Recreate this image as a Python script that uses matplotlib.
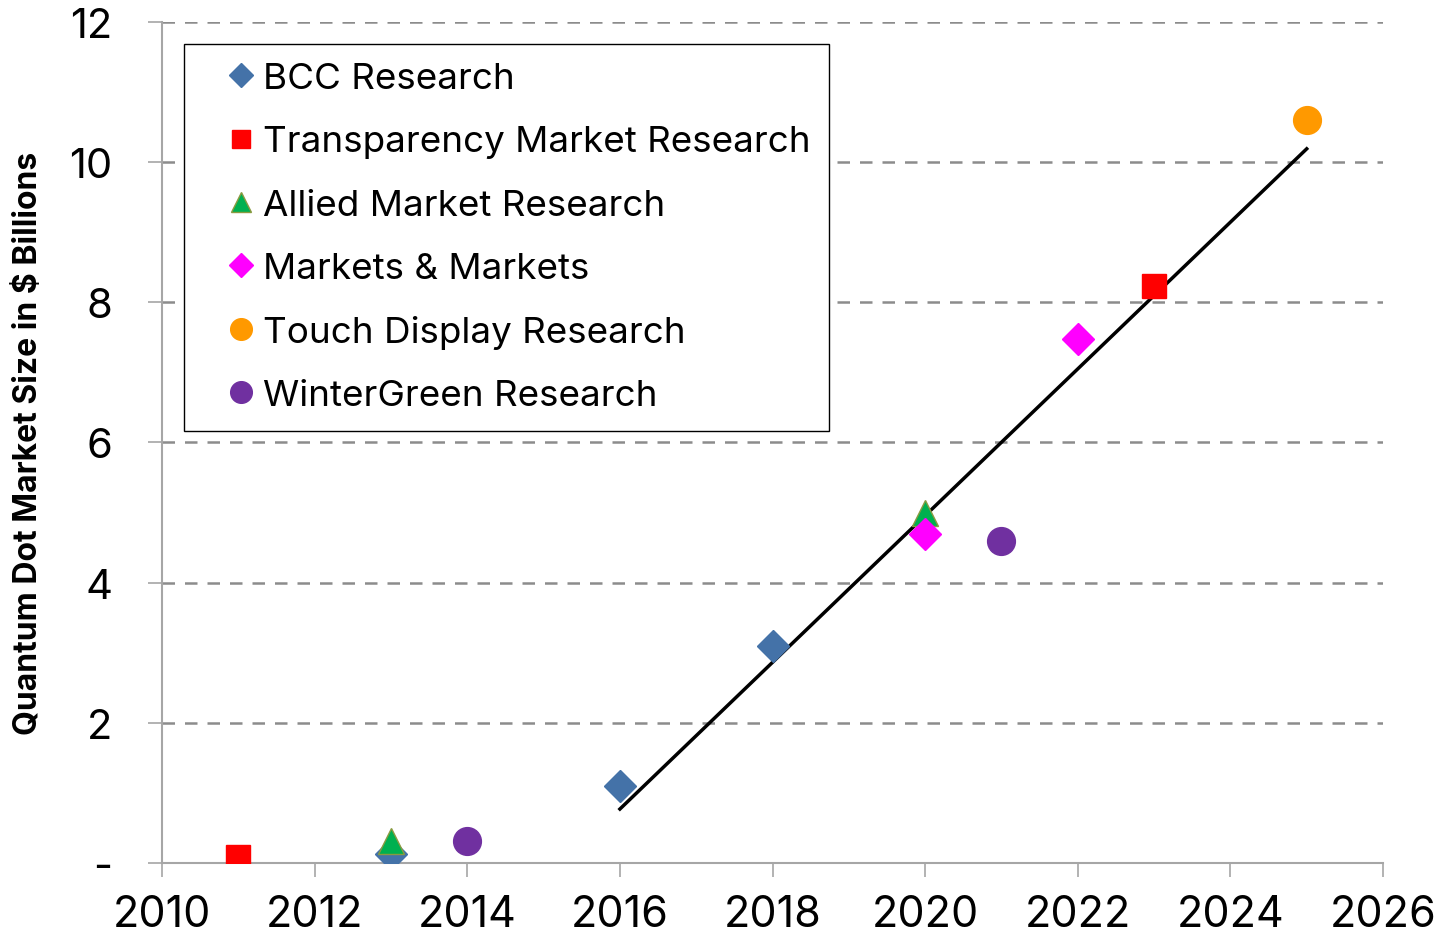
import matplotlib.pyplot as plt
import numpy as np

plt.rcParams['font.family'] = ['Inter', 'DejaVu Sans']

# values ($ billions)
bcc_years = [2013, 2016, 2018]
bcc_vals = [0.13, 1.1, 3.1]
tmr_years = [2011, 2023]
tmr_vals = [0.09, 8.23]
amr_years = [2013, 2020]
amr_vals = [0.31, 5.0]
mm_years = [2020, 2022]
mm_vals = [4.7, 7.47]
tdr_years = [2025]
tdr_vals = [10.6]
wg_years = [2014, 2021]
wg_vals = [0.31, 4.6]

trend_years = [2016, 2025]
trend_vals = [0.77, 10.19]

xticks = list(range(2010, 2027, 2))
yticks = [0, 2, 4, 6, 8, 10, 12]
ytick_labels = ['-', '2', '4', '6', '8', '10', '12']

fig = plt.figure(figsize=(14.39, 9.37), dpi=100)
ax = fig.add_axes([0.1126, 0.0779, 0.8485, 0.8976])

ax.plot(trend_years, trend_vals, color='black', lw=2.5, zorder=3)

series = [
    ('BCC Research', bcc_years, bcc_vals, 'D', '#4472a8', 16),
    ('Transparency Market Research', tmr_years, tmr_vals, 's', '#ff0000', 17),
    ('Allied Market Research', amr_years, amr_vals, '^', '#00b050', 19),
    ('Markets & Markets', mm_years, mm_vals, 'D', '#ff00ff', 16),
    ('Touch Display Research', tdr_years, tdr_vals, 'o', '#ff9900', 20),
    ('WinterGreen Research', wg_years, wg_vals, 'o', '#7030a0', 20),
]
for name, xs, ys, mk, col, ms in series:
    mec = '#8a9a40' if mk == '^' else col
    ax.plot(xs, ys, linestyle='none', marker=mk, color=col, markersize=ms,
            markeredgecolor=mec, markeredgewidth=1, label=name, zorder=4)

ax.set_xlim(2010, 2026)
ax.set_ylim(0, 12)
ax.set_xticks(xticks)
ax.set_yticks(yticks)
ax.set_yticklabels(ytick_labels)
ax.tick_params(axis='both', length=10, width=1.2, color='#a6a6a6')
ax.tick_params(axis='x', pad=12, labelsize=31)
ax.tick_params(axis='y', pad=26, labelsize=30)

for y in yticks[1:]:
    ax.axhline(y, color='#8c8c8c', lw=1.8, dashes=(5, 4), zorder=1)

for s in ['top', 'right']:
    ax.spines[s].set_visible(False)
for s in ['left', 'bottom']:
    ax.spines[s].set_color('#a6a6a6')
    ax.spines[s].set_linewidth(1.5)

ax.set_ylabel('Quantum Dot Market Size in $ Billions', fontsize=23,
              fontweight='bold')
ax.yaxis.set_label_coords(-0.097, 0.5)

leg = ax.legend(loc='upper left', bbox_to_anchor=(0.018, 0.974), fontsize=26.5,
                markerscale=0.78, frameon=True, fancybox=False, framealpha=1,
                edgecolor='black', handletextpad=-0.45, labelspacing=0.82,
                borderpad=0.5, handlelength=2.1, borderaxespad=0)
leg.get_frame().set_linewidth(1.0)

fig.savefig('out.png', dpi=100)
